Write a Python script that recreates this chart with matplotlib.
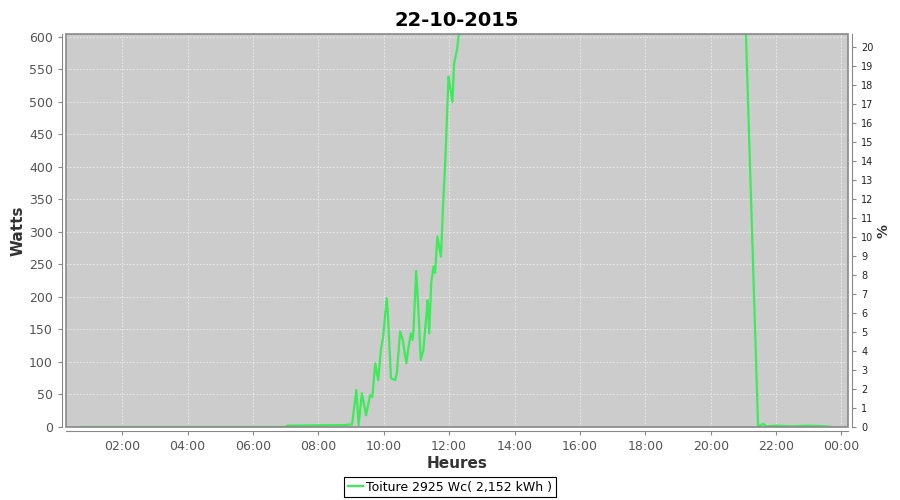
import matplotlib
matplotlib.use("Agg")
import matplotlib.pyplot as plt
from matplotlib.patches import Rectangle
from matplotlib.ticker import FuncFormatter, MultipleLocator

# production of the day, hours (decimal) and watts
hours = [0.75, 7.0, 7.05, 8.8, 9.03, 9.16, 9.23, 9.33, 9.46, 9.58, 9.65, 9.74,
         9.83, 9.91, 9.98, 10.09, 10.13, 10.22, 10.35, 10.40, 10.50, 10.58,
         10.69, 10.76, 10.83, 10.88, 10.91, 10.99, 11.06, 11.13, 11.21, 11.30,
         11.34, 11.39, 11.45, 11.52, 11.57, 11.64, 11.75, 11.81, 11.88, 11.93,
         11.98, 12.03, 12.10, 12.15, 12.24, 12.31, 12.5, 13.5, 15.0, 17.0,
         19.0, 20.5, 21.05, 21.45, 21.6, 21.7, 22.0, 22.5, 23.0, 23.5, 23.7]
watts = [0, 0, 2, 3, 4, 57, 3, 52, 18, 49, 46, 98,
         72, 118, 139, 198, 170, 75, 72, 83, 147, 134,
         98, 124, 144, 134, 149, 240, 180, 103, 118, 170,
         195, 144, 221, 247, 237, 293, 262, 337, 408, 472,
         539, 523, 500, 559, 580, 611, 780, 1400, 1800, 1500,
         1100, 900, 650, 0, 5, 1, 2, 1, 2, 1, 0]

peak_wc = 2925
hour_ticks = [2, 4, 6, 8, 10, 12, 14, 16, 18, 20, 22, 24]
label = "Toiture 2925 Wc( 2,152 kWh )"
title = "22-10-2015"

green = "#3DEB5A"
tick_col = "#555555"
frame_col = "#888888"

fig = plt.figure(figsize=(9, 5), dpi=100)
ax = fig.add_axes([66 / 900, 1 - 427 / 500, 782 / 900, 393 / 500])
ax.set_facecolor("#CCCCCC")

ax.plot(hours, watts, color=green, lw=1.6, label=label, zorder=3)

ax.set_xlim(0.28, 24.2)
ax.set_ylim(0, 604.6)
ax.set_xticks(hour_ticks)
ax.xaxis.set_major_formatter(FuncFormatter(lambda v, p: "%02d:00" % (int(v) % 24)))
ax.yaxis.set_major_locator(MultipleLocator(50))
ax.grid(True, color="#EEEEEE", ls=(0, (2, 2)), lw=0.6)

for s in ["top", "right"]:
    ax.spines[s].set_visible(False)
for s in ["left", "bottom"]:
    ax.spines[s].set_position(("outward", 3))
    ax.spines[s].set_color(frame_col)
ax.add_patch(Rectangle((0, 0), 1, 1, transform=ax.transAxes, fill=False,
                       ec=frame_col, lw=1.2, zorder=5, clip_on=False))
ax.tick_params(colors=frame_col, labelcolor=tick_col, labelsize=9, length=3)

ax.set_ylabel("Watts", fontsize=11, fontweight="bold", color="#333333", labelpad=2)
ax.set_xlabel("Heures", fontsize=11, fontweight="bold", color="#333333", labelpad=2)
ax.set_title(title, fontsize=14, fontweight="bold", pad=6)

ax2 = ax.twinx()
ax2.set_ylim(0, 604.6 / peak_wc * 100)
ax2.yaxis.set_major_locator(MultipleLocator(1))
for s in ["top", "left", "bottom"]:
    ax2.spines[s].set_visible(False)
ax2.spines["right"].set_position(("outward", 3))
ax2.spines["right"].set_color(frame_col)
ax2.tick_params(colors=frame_col, labelcolor="#222222", labelsize=7, length=3)
ax2.set_ylabel("%", fontsize=10, fontweight="bold", color="#333333", labelpad=2)

leg = fig.legend(loc="center", bbox_to_anchor=(0.5, 1 - 487 / 500), fontsize=9,
                 fancybox=False, edgecolor="black", framealpha=1,
                 handlelength=1.2, handletextpad=0.3, borderpad=0.3)
leg.get_frame().set_linewidth(0.8)

fig.savefig("out.png", dpi=100)
